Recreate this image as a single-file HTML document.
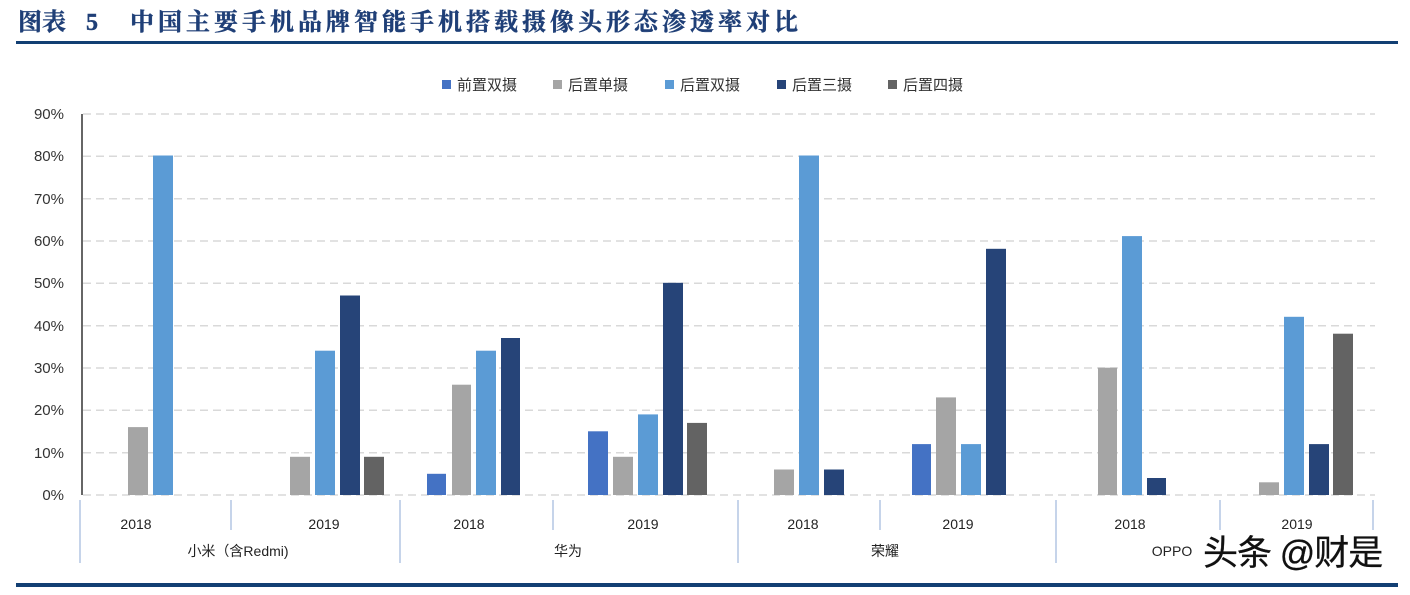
<!DOCTYPE html>
<html><head><meta charset="utf-8"><style>
body{margin:0;background:#fff;width:1410px;height:590px;overflow:hidden}
</style></head><body>
<svg width="1410" height="590" xmlns="http://www.w3.org/2000/svg" font-family="Liberation Sans, Noto Sans CJK SC, sans-serif">
<g font-family="Liberation Serif, Noto Serif CJK SC, serif" font-weight="bold" font-size="24" fill="#1f3f77" stroke="#1f3f77" stroke-width="0.4">
<text x="18" y="30">图表</text>
<text x="86" y="30">5</text>
<text x="130" y="30" letter-spacing="4">中国主要手机品牌智能手机搭载摄像头形态渗透率对比</text>
</g>
<rect x="16" y="41" width="1382" height="3" fill="#123f73"/>
<rect x="16" y="583" width="1382" height="4" fill="#123f73"/>
<g font-size="15" fill="#333">
<rect x="442" y="80" width="9" height="9" fill="#4472c4"/><text x="457" y="90">前置双摄</text>
<rect x="553" y="80" width="9" height="9" fill="#a5a5a5"/><text x="568" y="90">后置单摄</text>
<rect x="665" y="80" width="9" height="9" fill="#5b9bd5"/><text x="680" y="90">后置双摄</text>
<rect x="777" y="80" width="9" height="9" fill="#264478"/><text x="792" y="90">后置三摄</text>
<rect x="888" y="80" width="9" height="9" fill="#636363"/><text x="903" y="90">后置四摄</text>
</g>
<g stroke="#d9d9d9" stroke-width="1.5" stroke-dasharray="8,5">
<line x1="83" x2="1375" y1="114" y2="114"/><line x1="83" x2="1375" y1="156.3" y2="156.3"/><line x1="83" x2="1375" y1="198.7" y2="198.7"/><line x1="83" x2="1375" y1="241" y2="241"/><line x1="83" x2="1375" y1="283.3" y2="283.3"/><line x1="83" x2="1375" y1="325.7" y2="325.7"/><line x1="83" x2="1375" y1="368" y2="368"/><line x1="83" x2="1375" y1="410.3" y2="410.3"/><line x1="83" x2="1375" y1="452.7" y2="452.7"/><line x1="83" x2="1375" y1="495" y2="495"/>
</g>
<line x1="82" x2="82" y1="114" y2="495" stroke="#000" stroke-width="1.2"/>
<g font-size="15" fill="#333" text-anchor="end">
<text x="64" y="119">90%</text><text x="64" y="161">80%</text><text x="64" y="204">70%</text><text x="64" y="246">60%</text><text x="64" y="288">50%</text><text x="64" y="331">40%</text><text x="64" y="373">30%</text><text x="64" y="415">20%</text><text x="64" y="458">10%</text><text x="64" y="500">0%</text>
</g>
<g>
<rect x="128" y="427.1" width="20" height="67.9" fill="#a5a5a5"/>
<rect x="153" y="155.5" width="20" height="339.5" fill="#5b9bd5"/>
<rect x="290" y="456.8" width="20" height="38.2" fill="#a5a5a5"/>
<rect x="315" y="350.7" width="20" height="144.3" fill="#5b9bd5"/>
<rect x="340" y="295.5" width="20" height="199.5" fill="#264478"/>
<rect x="364" y="456.8" width="20" height="38.2" fill="#636363"/>
<rect x="427" y="473.8" width="19" height="21.2" fill="#4472c4"/>
<rect x="452" y="384.7" width="19" height="110.3" fill="#a5a5a5"/>
<rect x="476" y="350.7" width="20" height="144.3" fill="#5b9bd5"/>
<rect x="501" y="338" width="19" height="157" fill="#264478"/>
<rect x="588" y="431.3" width="20" height="63.7" fill="#4472c4"/>
<rect x="613" y="456.8" width="20" height="38.2" fill="#a5a5a5"/>
<rect x="638" y="414.4" width="20" height="80.6" fill="#5b9bd5"/>
<rect x="663" y="282.8" width="20" height="212.2" fill="#264478"/>
<rect x="687" y="422.9" width="20" height="72.1" fill="#636363"/>
<rect x="774" y="469.5" width="20" height="25.5" fill="#a5a5a5"/>
<rect x="799" y="155.5" width="20" height="339.5" fill="#5b9bd5"/>
<rect x="824" y="469.5" width="20" height="25.5" fill="#264478"/>
<rect x="912" y="444.1" width="19" height="50.9" fill="#4472c4"/>
<rect x="936" y="397.4" width="20" height="97.6" fill="#a5a5a5"/>
<rect x="961" y="444.1" width="20" height="50.9" fill="#5b9bd5"/>
<rect x="986" y="248.8" width="20" height="246.2" fill="#264478"/>
<rect x="1098" y="367.7" width="19" height="127.3" fill="#a5a5a5"/>
<rect x="1122" y="236.1" width="20" height="258.9" fill="#5b9bd5"/>
<rect x="1147" y="478" width="19" height="17" fill="#264478"/>
<rect x="1259" y="482.3" width="20" height="12.7" fill="#a5a5a5"/>
<rect x="1284" y="316.8" width="20" height="178.2" fill="#5b9bd5"/>
<rect x="1309" y="444.1" width="20" height="50.9" fill="#264478"/>
<rect x="1333" y="333.7" width="20" height="161.3" fill="#636363"/>
</g>
<g stroke="#8eaad6" stroke-width="1">
<line x1="80" x2="80" y1="500" y2="563"/><line x1="400" x2="400" y1="500" y2="563"/><line x1="738" x2="738" y1="500" y2="563"/><line x1="1056" x2="1056" y1="500" y2="563"/>
<line x1="231" x2="231" y1="500" y2="530"/><line x1="553" x2="553" y1="500" y2="530"/><line x1="880" x2="880" y1="500" y2="530"/><line x1="1220" x2="1220" y1="500" y2="530"/><line x1="1373" x2="1373" y1="500" y2="530"/>
</g>
<g font-size="14" fill="#222" text-anchor="middle">
<text x="136" y="529">2018</text><text x="324" y="529">2019</text><text x="469" y="529">2018</text><text x="643" y="529">2019</text><text x="803" y="529">2018</text><text x="958" y="529">2019</text><text x="1130" y="529">2018</text><text x="1297" y="529">2019</text>
<text x="238" y="556">小米（含Redmi)</text><text x="568" y="556">华为</text><text x="885" y="556">荣耀</text><text x="1172" y="556">OPPO</text>
</g>
<text x="1203" y="565" font-size="35" fill="#111" stroke="#111" stroke-width="0.3" letter-spacing="-1">头条 @财是</text>
</svg>
</body></html>
